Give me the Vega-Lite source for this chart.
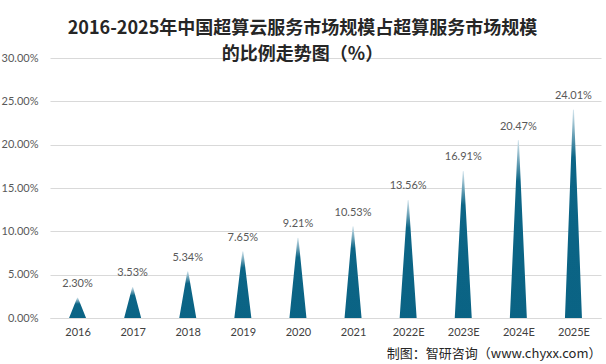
{
  "$schema": "https://vega.github.io/schema/vega-lite/v6.json",
  "width": 551,
  "height": 260,
  "autosize": {"type": "none"},
  "padding": {"left": 50, "top": 58, "right": 5, "bottom": 46},
  "background": "#ffffff",
  "title": {
    "text": ["2016-2025年中国超算云服务市场规模占超算服务市场规模", "的比例走势图（%）"],
    "font": "Noto Sans CJK SC",
    "fontSize": 18,
    "fontWeight": "bold",
    "color": "#262626",
    "lineHeight": 26,
    "anchor": "middle",
    "frame": "group",
    "dx": -23,
    "offset": -12
  },
  "data": {
    "values": [
      {"year": "2016", "share": 0.0230},
      {"year": "2017", "share": 0.0353},
      {"year": "2018", "share": 0.0534},
      {"year": "2019", "share": 0.0765},
      {"year": "2020", "share": 0.0921},
      {"year": "2021", "share": 0.1053},
      {"year": "2022E", "share": 0.1356},
      {"year": "2023E", "share": 0.1691},
      {"year": "2024E", "share": 0.2047},
      {"year": "2025E", "share": 0.2401}
    ]
  },
  "config": {
    "view": {"stroke": null},
    "font": "Lato",
    "axisY": {
      "format": ".2%",
      "values": [0, 0.05, 0.1, 0.15, 0.2, 0.25, 0.3],
      "labelFontSize": 11,
      "labelColor": "#595959",
      "labelPadding": 12,
      "ticks": false,
      "domain": false,
      "gridColor": "#d9d9d9",
      "title": null
    }
  },
  "encoding": {
    "x": {
      "field": "year",
      "type": "ordinal",
      "sort": null,
      "scale": {"paddingInner": 0, "paddingOuter": 0},
      "axis": {
        "labelAngle": 0,
        "labelFontSize": 11,
        "labelColor": "#404040",
        "labelPadding": 8,
        "ticks": false,
        "domain": true,
        "domainColor": "#d9d9d9",
        "grid": false,
        "title": "制图：智研咨询（www.chyxx.com）",
        "titleFont": "Noto Sans CJK SC",
        "titleFontSize": 13,
        "titleFontWeight": "normal",
        "titleColor": "#262626",
        "titleAnchor": "end",
        "titleAlign": "right",
        "titlePadding": 10
      }
    }
  },
  "layer": [
    {
      "transform": [
        {"calculate": "0", "as": "base"},
        {"fold": ["base", "share"], "as": ["end", "v"]}
      ],
      "mark": {
        "type": "trail",
        "clip": true,
        "color": {
          "gradient": "linear",
          "x1": 0, "y1": 0, "x2": 0, "y2": 1,
          "stops": [
            {"offset": 0, "color": "#d6e6ee"},
            {"offset": 0.22, "color": "#0c6586"},
            {"offset": 1, "color": "#0a6384"}
          ]
        }
      },
      "encoding": {
        "y": {
          "field": "v",
          "type": "quantitative",
          "scale": {"domain": [0, 0.3]},
          "axis": {"values": [0, 0.05, 0.1, 0.15, 0.2, 0.25, 0.3], "format": ".2%", "title": null}
        },
        "detail": {"field": "year"},
        "order": {"field": "v", "type": "quantitative"},
        "size": {
          "field": "end",
          "type": "nominal",
          "scale": {"domain": ["base", "share"], "range": [17, 0]},
          "legend": null
        }
      }
    },
    {
      "mark": {
        "type": "text",
        "baseline": "middle",
        "dy": -14,
        "fontSize": 11,
        "color": "#595959"
      },
      "encoding": {
        "y": {
          "field": "share",
          "type": "quantitative",
          "axis": {"values": [0, 0.05, 0.1, 0.15, 0.2, 0.25, 0.3], "format": ".2%", "title": null}
        },
        "text": {"field": "share", "type": "quantitative", "format": ".2%"}
      }
    }
  ]
}
